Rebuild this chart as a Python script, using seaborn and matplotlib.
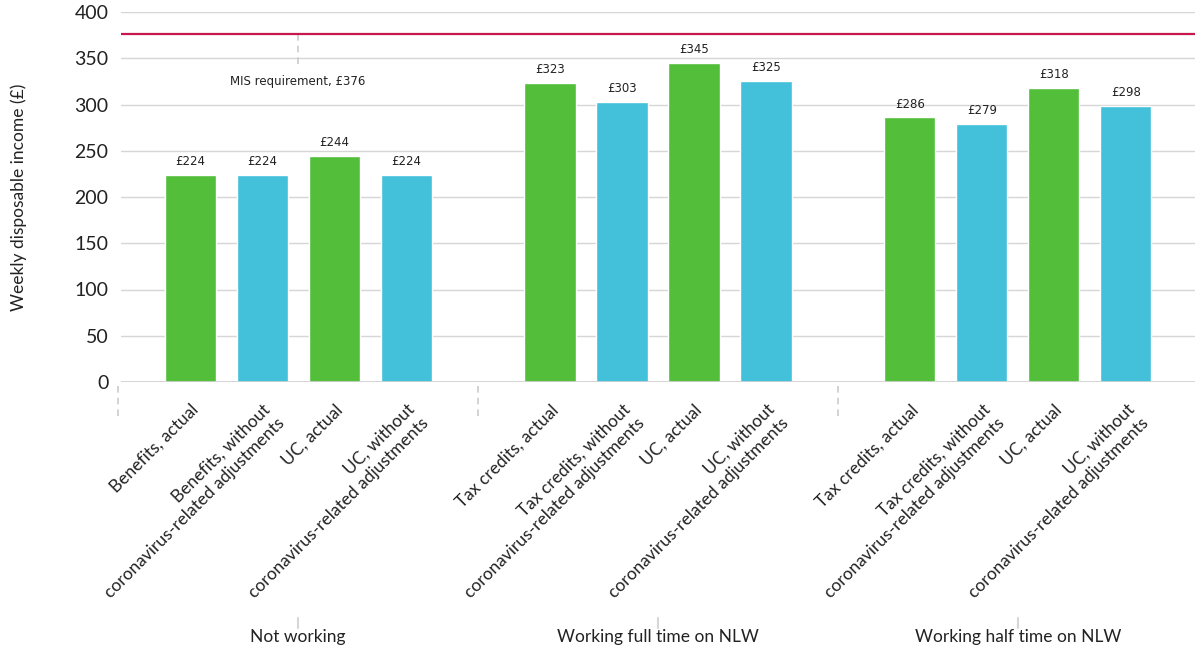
import matplotlib
matplotlib.use("Agg")
import matplotlib.pyplot as plt
import seaborn as sns
import pandas as pd

# Bar labels, grouped by work status
groups = ["Not working", "Working full time on NLW", "Working half time on NLW"]
bar_labels = [
    "Benefits, actual",
    "Benefits, without\ncoronavirus-related adjustments",
    "UC, actual",
    "UC, without\ncoronavirus-related adjustments",
    "Tax credits, actual",
    "Tax credits, without\ncoronavirus-related adjustments",
    "UC, actual",
    "UC, without\ncoronavirus-related adjustments",
    "Tax credits, actual",
    "Tax credits, without\ncoronavirus-related adjustments",
    "UC, actual",
    "UC, without\ncoronavirus-related adjustments",
]
kinds = ["actual", "without"] * 6
income = [224, 224, 244, 224, 323, 303, 345, 325, 286, 279, 318, 298]
mis_requirement = 376

# x positions: four bars per group with an empty slot between groups
positions = [g * 5 + i for g in range(3) for i in range(4)]
group_centres = [g * 5 + 1.5 for g in range(3)]
separators = [-1, 4, 9]

df = pd.DataFrame({"pos": positions, "income": income, "kind": kinds})

GREEN = "#52be3a"
BLUE = "#43c0da"
RED = "#c8174f"
GRID = "#d6d6d6"
TEXT = "#222222"

sns.set_theme(style="white")
plt.rcParams["font.family"] = ["Lato", "DejaVu Sans"]

fig = plt.figure(figsize=(11.95, 6.56), dpi=100)
ax = fig.add_axes([121 / 1195, 1 - 382 / 656, (1195 - 121) / 1195, 370 / 656])

sns.barplot(data=df, x="pos", y="income", hue="kind", native_scale=True,
            palette={"actual": GREEN, "without": BLUE}, dodge=False,
            width=0.71, saturation=1, legend=False, ax=ax, zorder=3)

for cont in ax.containers:
    ax.bar_label(cont, fmt="£{:.0f}", padding=5, fontsize=8.5,
                 color=TEXT, family="DejaVu Sans")

ax.set_xlim(-0.96, 13.96)
ax.set_ylim(0, 400)
ax.set_yticks(range(0, 401, 50))
ax.yaxis.grid(True, color=GRID, lw=1, zorder=0)
ax.xaxis.grid(False)
for s in ax.spines.values():
    s.set_visible(False)
ax.axhline(0, color="#cfcfcf", lw=1.2, zorder=4)

ax.tick_params(axis="y", length=0, labelsize=14, labelcolor=TEXT, pad=9)
ax.set_ylabel("Weekly disposable income (£)", fontsize=12.5, color=TEXT,
              labelpad=34)
ax.set_xlabel("")

ax.set_xticks(positions)
ax.set_xticklabels(bar_labels, rotation=45, ha="right", va="top",
                   rotation_mode="anchor", fontsize=12.5, color=TEXT,
                   linespacing=1.3)
ax.tick_params(axis="x", length=10, width=1.5, color="#d6d6d6", pad=4)

# MIS requirement reference line
ax.axhline(mis_requirement, color=RED, lw=1.6, zorder=5)
ax.plot([1.5, 1.5], [mis_requirement, 340], color="#cccccc", lw=1.2,
        ls=(0, (4, 3)), zorder=2)
ax.text(1.5, 325, f"MIS requirement, £{mis_requirement}", ha="center",
        va="center", fontsize=8.5, color=TEXT, family="DejaVu Sans")

# group separators and group labels below the axis
xt = ax.get_xaxis_transform()
for s in separators:
    ax.plot([s, s], [-0.01, -0.105], transform=xt, color="#cccccc", lw=1.2,
            ls=(0, (4, 3)), clip_on=False)
for c, g in zip(group_centres, groups):
    ax.plot([c, c], [-0.638, -0.665], transform=xt, color="#d6d6d6", lw=1.5,
            clip_on=False)
    ax.text(c, -0.69, g, transform=xt, ha="center", va="center",
            fontsize=12.5, color=TEXT)

fig.savefig("out.png", dpi=100)
